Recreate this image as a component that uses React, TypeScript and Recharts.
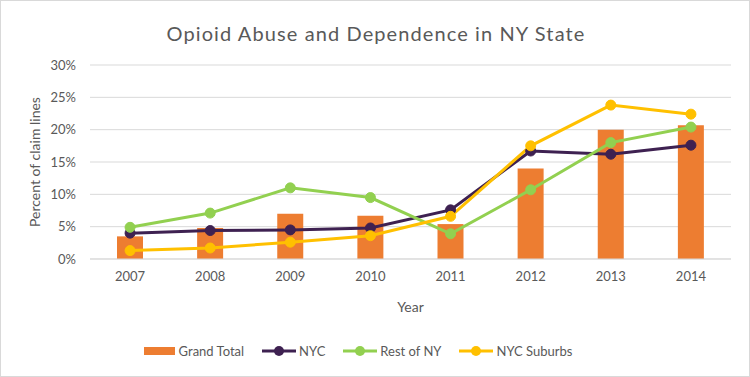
import { ComposedChart, Bar, Line, XAxis, YAxis, CartesianGrid } from "recharts"

const years = ["2007", "2008", "2009", "2010", "2011", "2012", "2013", "2014"]
const grandTotal = [3.5, 4.8, 7.0, 6.7, 5.4, 14.0, 20.0, 20.7]
const nyc = [4.0, 4.4, 4.5, 4.8, 7.6, 16.7, 16.2, 17.6]
const restOfNY = [4.9, 7.1, 11.0, 9.5, 3.9, 10.7, 18.0, 20.4]
const nycSuburbs = [1.3, 1.7, 2.6, 3.6, 6.6, 17.5, 23.8, 22.4]
const yTicks = [0, 5, 10, 15, 20, 25, 30]

const data = years.map((year, i) => ({
  year,
  grandTotal: grandTotal[i],
  nyc: nyc[i],
  restOfNY: restOfNY[i],
  nycSuburbs: nycSuburbs[i],
}))

const FONT = "Lato, 'Open Sans', sans-serif"
const TEXT = "#595959"

const legendItems = [
  { name: "Grand Total", color: "#ED7D31", kind: "bar" },
  { name: "NYC", color: "#3E2151", kind: "line" },
  { name: "Rest of NY", color: "#92D050", kind: "line" },
  { name: "NYC Suburbs", color: "#FFC000", kind: "line" },
]

export default function App() {
  return (
    <div
      style={{
        position: "absolute",
        left: 0,
        top: 0,
        width: 750,
        height: 377,
        boxSizing: "border-box",
        border: "1px solid #d9d9d9",
        background: "#fff",
        fontFamily: FONT,
      }}
    >
      <div
        style={{
          position: "absolute",
          top: 20,
          left: 0,
          width: 750,
          textAlign: "center",
          fontSize: 20,
          color: TEXT,
          letterSpacing: 1.1,
        }}
      >
        Opioid Abuse and Dependence in NY State
      </div>
      <ComposedChart
        width={748}
        height={375}
        data={data}
        margin={{ top: 64, right: 18, left: 19, bottom: 64 }}
        style={{ position: "absolute", left: 0, top: 0 }}
      >
        <CartesianGrid vertical={false} stroke="#d9d9d9" />
        <XAxis
          dataKey="year"
          height={53}
          axisLine={{ stroke: "#d9d9d9" }}
          tickLine={false}
          tickMargin={7}
          tick={{ fill: TEXT, fontSize: 13, fontFamily: FONT }}
          label={{ value: "Year", position: "insideBottom", offset: 0, fill: TEXT, fontSize: 14, fontFamily: FONT }}
        />
        <YAxis
          width={70}
          domain={[0, 30]}
          ticks={yTicks}
          tickFormatter={(v: number) => `${v}%`}
          axisLine={false}
          tickLine={false}
          tickMargin={8}
          tick={{ fill: TEXT, fontSize: 13, fontFamily: FONT }}
          label={{
            value: "Percent of claim lines",
            angle: -90,
            position: "insideLeft",
            offset: 15,
            fill: TEXT,
            fontSize: 14,
            fontFamily: FONT,
            style: { textAnchor: "middle" },
          }}
        />
        <Bar dataKey="grandTotal" name="Grand Total" fill="#ED7D31" barSize={26} isAnimationActive={false} />
        <Line
          dataKey="nyc"
          name="NYC"
          stroke="#3E2151"
          strokeWidth={3}
          dot={{ r: 5, fill: "#3E2151", stroke: "#3E2151", strokeWidth: 1 }}
          isAnimationActive={false}
        />
        <Line
          dataKey="restOfNY"
          name="Rest of NY"
          stroke="#92D050"
          strokeWidth={3}
          dot={{ r: 5, fill: "#92D050", stroke: "#92D050", strokeWidth: 1 }}
          isAnimationActive={false}
        />
        <Line
          dataKey="nycSuburbs"
          name="NYC Suburbs"
          stroke="#FFC000"
          strokeWidth={3}
          dot={{ r: 5, fill: "#FFC000", stroke: "#FFC000", strokeWidth: 1 }}
          isAnimationActive={false}
        />
      </ComposedChart>
      <div
        style={{
          position: "absolute",
          top: 341,
          left: 0,
          width: 714,
          display: "flex",
          justifyContent: "center",
          gap: 18,
          fontSize: 13,
          color: TEXT,
        }}
      >
        {legendItems.map((item) => (
          <div key={item.name} style={{ display: "flex", alignItems: "center", gap: 3 }}>
            {item.kind === "bar" ? (
              <svg width={32} height={18}>
                <rect x={0} y={5} width={31} height={8} fill={item.color} />
              </svg>
            ) : (
              <svg width={34} height={18}>
                <line x1={0} y1={9} x2={34} y2={9} stroke={item.color} strokeWidth={3} />
                <circle cx={17} cy={9} r={5} fill={item.color} />
              </svg>
            )}
            <span>{item.name}</span>
          </div>
        ))}
      </div>
    </div>
  )
}
